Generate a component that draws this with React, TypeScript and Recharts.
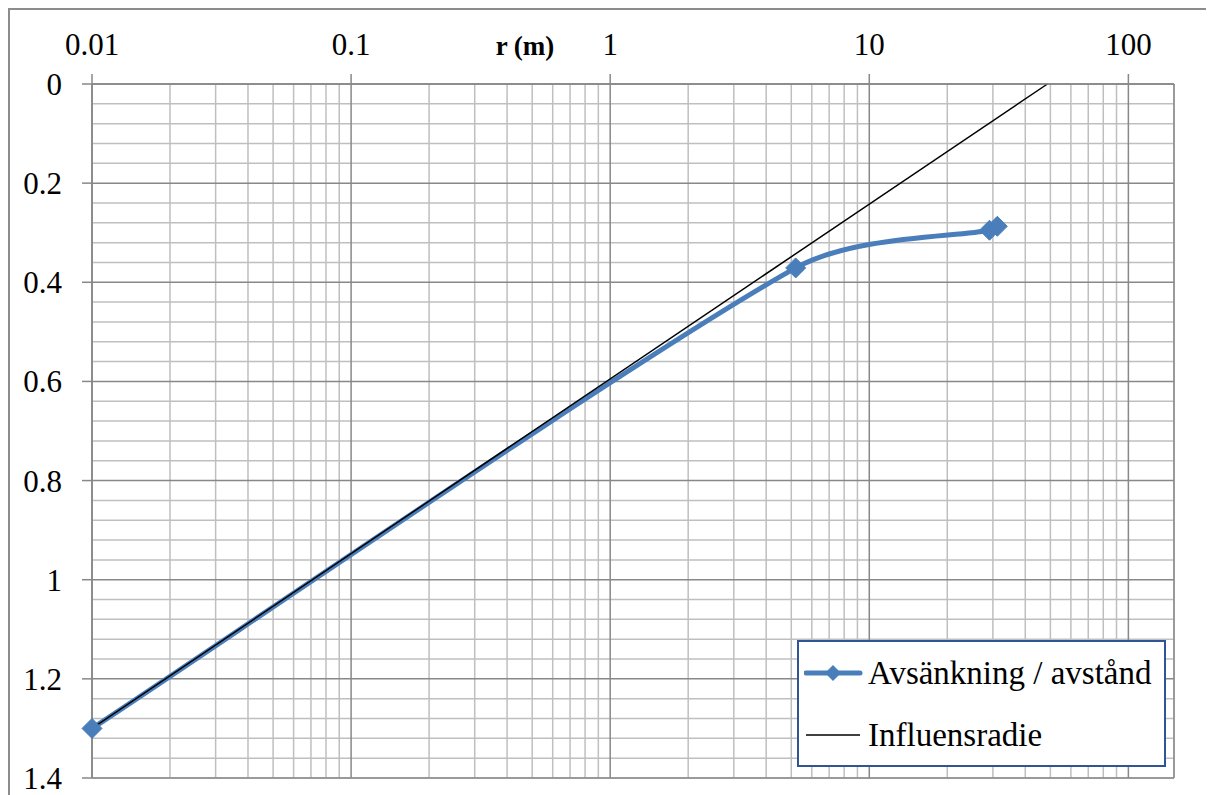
import { LineChart, Line, XAxis, YAxis, CartesianGrid, Legend } from 'recharts';

// avsänkning mot avstånd, läst ur bilden
const drawdown = [
  { r: 0.01, s: 1.3 },
  { r: 5.2, s: 0.371 },
  { r: 29.1, s: 0.295 },
  { r: 31.2, s: 0.287 },
];

// influensradie: rak linje i log-skala
const influence = [
  { r: 0.01, s: 1.3 },
  { r: 48.7, s: 0 },
];

const xTicks = [0.01, 0.1, 1, 10, 100];
const yTicks = [0, 0.2, 0.4, 0.6, 0.8, 1, 1.2, 1.4];
const xDomain = [0.01, 150];
const yDomain = [0, 1.4];

// rutnät
const minorX: number[] = [];
[0.01, 0.1, 1, 10].forEach((d) => {
  for (let m = 2; m <= 9; m++) minorX.push(d * m);
});
minorX.push(150);
const minorY: number[] = [];
for (let i = 1; i < 35; i++) if (i % 5 !== 0) minorY.push(i * 0.04);

const BLUE = '#4a7ebb';
const GRID = '#888888';
const FONT = '"Liberation Serif", "Times New Roman", serif';

// Excel-liknande utjämnad linje (bezier med begränsade styrpunkter)
function excelSmooth(context: any) {
  let pts: [number, number][] = [];
  const cap = (v: [number, number], max: number): [number, number] => {
    const len = Math.hypot(v[0], v[1]);
    if (len <= max || len === 0) return v;
    return [(v[0] * max) / len, (v[1] * max) / len];
  };
  return {
    areaStart() {},
    areaEnd() {},
    lineStart() {
      pts = [];
    },
    point(x: number, y: number) {
      pts.push([+x, +y]);
    },
    lineEnd() {
      if (!pts.length) return;
      context.moveTo(pts[0][0], pts[0][1]);
      for (let i = 0; i < pts.length - 1; i++) {
        const p0 = pts[Math.max(i - 1, 0)];
        const p1 = pts[i];
        const p2 = pts[i + 1];
        const p3 = pts[Math.min(i + 2, pts.length - 1)];
        const seg = Math.hypot(p2[0] - p1[0], p2[1] - p1[1]) / 3;
        const t1 = cap([(p2[0] - p0[0]) / 6, (p2[1] - p0[1]) / 6], seg);
        const t2 = cap([(p3[0] - p1[0]) / 6, (p3[1] - p1[1]) / 6], seg);
        context.bezierCurveTo(p1[0] + t1[0], p1[1] + t1[1], p2[0] - t2[0], p2[1] - t2[1], p2[0], p2[1]);
      }
    },
  };
}

const Diamond = (props: any) => {
  const { cx, cy, index } = props;
  if (cx == null || cy == null) return <g key={index} />;
  const h = 10;
  return (
    <polygon
      key={index}
      points={`${cx},${cy - h} ${cx + h},${cy} ${cx},${cy + h} ${cx - h},${cy}`}
      fill={BLUE}
      stroke={BLUE}
    />
  );
};

const LegendBox = (props: any) => {
  const items = props.payload || [];
  return (
    <div
      style={{
        width: 369,
        height: 127,
        boxSizing: 'border-box',
        border: '2px solid #2f5597',
        background: '#fff',
        fontFamily: FONT,
        fontSize: 33,
        color: '#000',
      }}
    >
      {items.map((it: any, i: number) => (
        <div key={i} style={{ display: 'flex', alignItems: 'center', height: 62 }}>
          <svg width={62} height={20} style={{ marginLeft: 5, marginRight: 2 }}>
            {i === 0 ? (
              <>
                <line x1={2} y1={10} x2={56} y2={10} stroke={BLUE} strokeWidth={5} strokeLinecap="round" />
                <polygon points="29,2 37,10 29,18 21,10" fill={BLUE} />
              </>
            ) : (
              <line x1={2} y1={10} x2={56} y2={10} stroke="#000" strokeWidth={1.5} />
            )}
          </svg>
          <span style={{ whiteSpace: 'nowrap' }}>{it.value}</span>
        </div>
      ))}
    </div>
  );
};

export default function App() {
  return (
    <div
      style={{
        width: 1210,
        height: 790,
        overflow: 'hidden',
        borderLeft: '2px solid #8c8c8c',
        borderTop: '2px solid #8c8c8c',
        background: '#fff',
      }}
    >
      <style>{'body{overflow:hidden}'}</style>
      <LineChart width={1204} height={790} margin={{ top: 0, right: 40, bottom: 22, left: 0 }}>
        {/* dolda axlar för det fina rutnätet */}
        <XAxis
          xAxisId="minor"
          dataKey="r"
          type="number"
          scale="log"
          orientation="top"
          domain={xDomain}
          ticks={minorX}
          interval={0}
          allowDataOverflow
          hide
        />
        <YAxis
          yAxisId="minor"
          dataKey="s"
          type="number"
          reversed
          domain={yDomain}
          ticks={minorY}
          interval={0}
          allowDataOverflow
          hide
        />
        <CartesianGrid xAxisId="minor" yAxisId="minor" stroke="#bfbfbf" strokeWidth={1.5} />
        <CartesianGrid stroke={GRID} strokeWidth={1.5} />
        <XAxis
          dataKey="r"
          type="number"
          scale="log"
          orientation="top"
          domain={xDomain}
          ticks={xTicks}
          interval={0}
          height={74}
          axisLine={{ stroke: GRID, strokeWidth: 1.5 }}
          tickLine={{ stroke: GRID, strokeWidth: 1.5 }}
          tickSize={10}
          tickMargin={19}
          tick={{ fill: '#000', fontSize: 31, fontFamily: FONT }}
          label={{
            value: 'r (m)',
            position: 'center',
            dx: -108,
            dy: -2,
            fill: '#000',
            fontSize: 27,
            fontWeight: 'bold',
            fontFamily: FONT,
          }}
        />
        <YAxis
          dataKey="s"
          type="number"
          reversed
          domain={yDomain}
          ticks={yTicks}
          interval={0}
          width={82}
          axisLine={{ stroke: GRID, strokeWidth: 1.5 }}
          tickLine={{ stroke: GRID, strokeWidth: 1.5 }}
          tickSize={10}
          tickMargin={20}
          tick={{ fill: '#000', fontSize: 31, fontFamily: FONT }}
        />
        <Legend
          layout="vertical"
          align="center"
          verticalAlign="middle"
          content={<LegendBox />}
          wrapperStyle={{ left: 787, top: 630, width: 369, height: 127 }}
        />
        <Line
          data={drawdown}
          dataKey="s"
          name="Avsänkning / avstånd"
          type={excelSmooth as any}
          stroke={BLUE}
          strokeWidth={5}
          dot={<Diamond />}
          activeDot={false}
          isAnimationActive={false}
        />
        <Line
          data={influence}
          dataKey="s"
          name="Influensradie"
          type="linear"
          stroke="#000"
          strokeWidth={1.5}
          dot={false}
          activeDot={false}
          isAnimationActive={false}
        />
      </LineChart>
    </div>
  );
}
